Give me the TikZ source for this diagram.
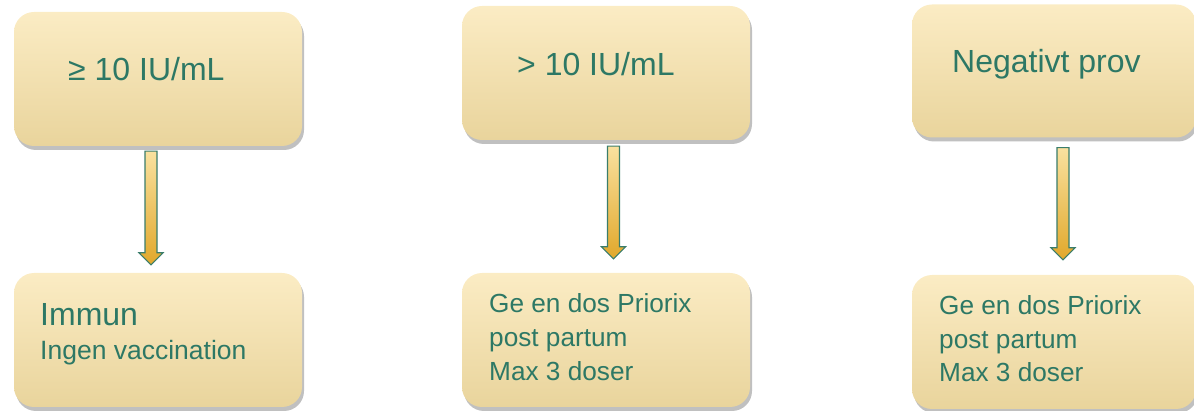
\documentclass[tikz,border=0pt]{standalone}
\usepackage{fontspec}
\setmainfont{Liberation Sans}
\usetikzlibrary{shadows,calc}
\definecolor{txt}{HTML}{2D7865}
\definecolor{boxtop}{HTML}{FBECC4}
\definecolor{boxmid}{HTML}{FDE8B6}
\definecolor{boxbot}{HTML}{E9D49C}
\definecolor{arrtop}{HTML}{F9E19F}
\definecolor{arrbot}{HTML}{E1A82B}
\definecolor{arredge}{HTML}{3A7D6B}
\tikzset{
  box/.style={rounded corners=20pt, top color=boxtop, middle color=boxmid, bottom color=boxbot,
    draw=none, inner sep=0pt,
    drop shadow={shadow xshift=2pt, shadow yshift=-4pt, opacity=0.45, fill=black!55}},
  lbl/.style={text=txt, anchor=base west, inner sep=0pt, align=left},
  fatarrow/.style={top color=arrtop, bottom color=arrbot, draw=arredge, line width=1.1pt, line join=miter}
}
\newcommand{\fatdown}[2]{% #1 start coordinate, #2 end coordinate
  \path[fatarrow] let \p1=(#1), \p2=(#2) in
    (\x1-6pt,\y1) -- (\x1+6pt,\y1) -- (\x1+6pt,\y2+12pt) -- (\x1+12pt,\y2+12pt) -- (\x1,\y2)
    -- (\x1-12pt,\y2+12pt) -- (\x1-6pt,\y2+12pt) -- cycle;}
\begin{document}
\begin{tikzpicture}[x=1pt,y=-1pt]
\useasboundingbox (0,0) rectangle (1194,411);
% top boxes
\node[box, minimum width=288pt, minimum height=134pt] (t1) at (158,79) {};
\node[box, minimum width=288pt, minimum height=134pt] (t2) at (606,73) {};
\node[box, minimum width=284pt, minimum height=133pt] (t3) at (1054,71) {};
% bottom boxes
\node[box, minimum width=288pt, minimum height=134pt] (b1) at (158,340) {};
\node[box, minimum width=288pt, minimum height=134pt] (b2) at (606,340) {};
\node[box, minimum width=284pt, minimum height=134pt] (b3) at (1054,342) {};
% texts
\node[lbl, font=\fontsize{32}{34}\selectfont] (tx1) at (68,81) {≥ 10 IU/mL};
\node[lbl, font=\fontsize{32}{34}\selectfont] (tx2) at (517,76) {> 10 IU/mL};
\node[lbl, font=\fontsize{32}{34}\selectfont] (tx3) at (952,73) {Negativt prov};
\node[lbl, font=\fontsize{32}{34}\selectfont] (bx1a) at (40,326) {Immun};
\node[lbl, font=\fontsize{26.5}{34}\selectfont] (bx1b) at (40,360) {Ingen vaccination};
\node[lbl, font=\fontsize{26.2}{34}\selectfont] (bx2) at (489,381) {Ge en dos Priorix\\post partum\\Max 3 doser};
\node[lbl, font=\fontsize{26.2}{33.5}\selectfont] (bx3) at (939,382) {Ge en dos Priorix\\post partum\\Max 3 doser};
% arrows
\fatdown{$(t1.south)+(-7,5)$}{$(b1.north)+(-7,-8)$}
\fatdown{$(t2.south)+(7.5,6)$}{$(b2.north)+(7.5,-14)$}
\fatdown{$(t3.south)+(9,10)$}{$(b3.north)+(9,-15)$}
\end{tikzpicture}
\end{document}
